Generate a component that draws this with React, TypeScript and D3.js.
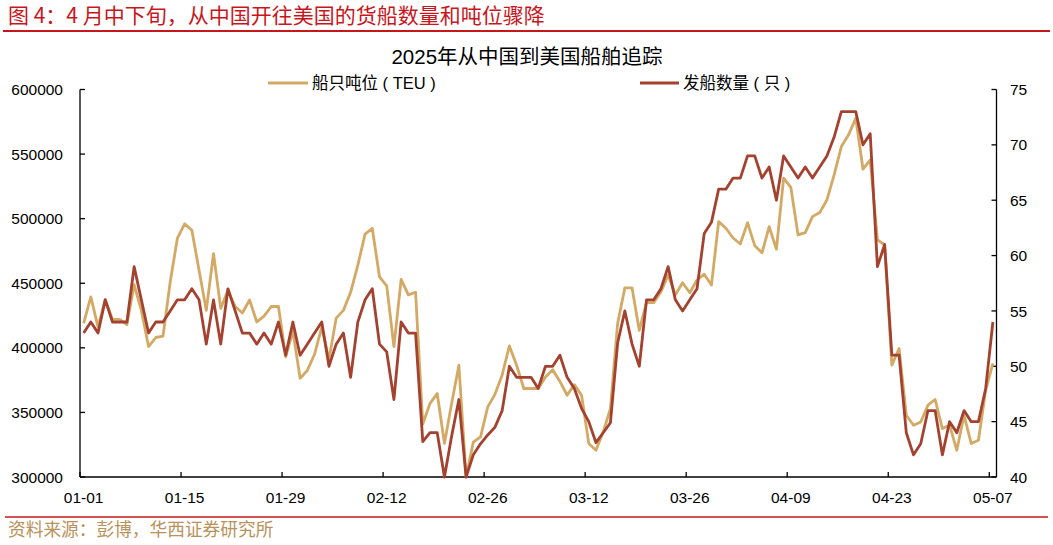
import React from "react";
import * as d3 from "d3";

// daily values, 2025-01-01 .. 2025-05-07
const teu = [
  419000, 439500, 416000, 437500, 422000, 422000, 418000, 449000, 429000, 401000,
  408000, 409000, 451000, 485000, 496000, 491000, 460000, 429000, 473000, 430500,
  444500, 432000, 427000, 437000, 420000, 424500, 432000, 432000, 393000, 413000,
  376500, 382500, 395000, 416000, 391000, 423000, 429000, 443000, 464000, 488000,
  492500, 455000, 448000, 401000, 453000, 441000, 443000, 341000, 357000, 364600,
  326000, 357000, 386600, 300000, 327000, 331000, 354300, 364000, 379000, 401500,
  386500, 368500, 368500, 368500, 377500, 383000, 374000, 363300, 371500, 363300,
  326000, 320700, 335000, 353000, 419000, 446400, 446400, 413500, 435000, 435000,
  443400, 456300, 441000, 450400, 442600, 452500, 457000, 448600, 497700, 492600,
  485000, 480400, 496900, 479100, 473600, 493800, 476300, 531300, 524300, 487400,
  489200, 501600, 504700, 514500, 533900, 555800, 564900, 577800, 538300, 545500,
  483500, 479800, 386600, 399500, 347800, 340100, 342600, 355600, 360000, 337500,
  340100, 320700, 347800, 325900, 328500, 367200, 387900,
];

const ships = [
  53, 54, 53, 56, 54, 54, 54, 59, 56, 53,
  54, 54, 55, 56, 56, 57, 56, 52, 56, 52,
  57, 55, 53, 53, 52, 53, 52, 54, 51, 54,
  51, 52, 53, 54, 50, 52, 53, 49, 54, 56,
  57, 52, 51.3, 47, 54, 53, 53, 43.2, 44, 44,
  40, 43.7, 47, 40, 42, 43, 43.8, 44.5, 46, 50,
  49, 49, 49, 48, 50, 50, 51, 49, 48, 46.2,
  45, 43.1, 44, 44.9, 52.1, 55, 52, 50, 56, 56,
  57, 59, 56, 55, 56, 57, 62, 63, 66, 66,
  67, 67, 69, 69, 67, 68, 65, 69, 68, 67,
  68, 67, 68, 69, 70.7, 73, 73, 73, 70, 71,
  59, 61, 51, 51, 44, 42, 43, 46, 46, 42,
  45, 44, 46, 45, 45, 48, 54,
];

const xTickLabels = ["01-01", "01-15", "01-29", "02-12", "02-26", "03-12", "03-26", "04-09", "04-23", "05-07"];
const leftTicks = [300000, 350000, 400000, 450000, 500000, 550000, 600000];
const rightTicks = [40, 45, 50, 55, 60, 65, 70, 75];

const TAN = "#D3A964";
const RED = "#A4412F";
const latin = "'Liberation Sans', Arial, sans-serif";
const cjk = "'Liberation Sans', 'Noto Sans CJK SC', sans-serif";

export default function App() {
  const W = 1053;
  const H = 545;
  const left = 80;
  const right = 996.5;
  const top = 89.5;
  const bottom = 477;

  const x = d3.scaleLinear().domain([0, teu.length]).range([left, right]);
  const yL = d3.scaleLinear().domain([300000, 600000]).range([bottom, top]);
  const yR = d3.scaleLinear().domain([40, 75]).range([bottom, top]);

  const lineL = d3
    .line<number>()
    .x((_, i) => x(i + 0.5))
    .y((d) => yL(d));
  const lineR = d3
    .line<number>()
    .x((_, i) => x(i + 0.5))
    .y((d) => yR(d));

  return (
    <svg
      width={W}
      height={H}
      style={{ position: "absolute", left: 0, top: 0, background: "#fff" }}
    >
      <text
        x={8}
        y={23}
        fill="#C8161D"
        fontSize={21}
        fontFamily="'Noto Sans CJK SC', sans-serif"
      >
        图 4：4 月中下旬，从中国开往美国的货船数量和吨位骤降
      </text>
      <line x1={3} x2={1050} y1={31} y2={31} stroke="#C8161D" strokeWidth={2} />

      <text
        x={527}
        y={64}
        textAnchor="middle"
        fontSize={20.5}
        fontFamily={cjk}
        fill="#000"
      >
        2025年从中国到美国船舶追踪
      </text>

      {/* legend */}
      <line x1={268} x2={308} y1={83} y2={83} stroke={TAN} strokeWidth={3} />
      <text x={312} y={89} fontSize={16.5} fontFamily={cjk}>
        船只吨位 ( TEU )
      </text>
      <line x1={640} x2={679} y1={83} y2={83} stroke={RED} strokeWidth={3} />
      <text x={683} y={89} fontSize={16.5} fontFamily={cjk}>
        发船数量 ( 只 )
      </text>

      {/* axes */}
      <g stroke="#000" strokeWidth={1.3} fill="none">
        <line x1={left} x2={left} y1={top} y2={bottom} />
        <line x1={right} x2={right} y1={top} y2={bottom} />
        <line x1={left} x2={right} y1={bottom} y2={bottom} />
        {leftTicks.map((t) => (
          <line key={t} x1={left} x2={left + 5} y1={yL(t)} y2={yL(t)} />
        ))}
        {rightTicks.map((t) => (
          <line key={t} x1={right - 5} x2={right} y1={yR(t)} y2={yR(t)} />
        ))}
        {xTickLabels.map((_, k) => (
          <line key={k} x1={x(k * 14)} x2={x(k * 14)} y1={bottom} y2={bottom - 5} />
        ))}
      </g>
      <g fontSize={15.5} fontFamily={latin} fill="#000">
        {leftTicks.map((t) => (
          <text key={t} x={63} y={yL(t)} dy="0.36em" textAnchor="end">
            {t}
          </text>
        ))}
        {rightTicks.map((t) => (
          <text key={t} x={1010} y={yR(t)} dy="0.36em">
            {t}
          </text>
        ))}
        {xTickLabels.map((s, k) => (
          <text key={s} x={x(k * 14 + 0.5)} y={503} textAnchor="middle">
            {s}
          </text>
        ))}
      </g>

      <path d={lineL(teu) || ""} fill="none" stroke={TAN} strokeWidth={2.8} strokeLinejoin="round" />
      <path d={lineR(ships) || ""} fill="none" stroke={RED} strokeWidth={2.8} strokeLinejoin="round" />

      <line x1={5} x2={1048} y1={517} y2={517} stroke="#C8161D" strokeWidth={1.5} />
      <text
        x={8}
        y={536}
        fill="#B8925A"
        fontSize={17.7}
        fontFamily="'Noto Sans CJK SC', sans-serif"
      >
        资料来源：彭博，华西证券研究所
      </text>
    </svg>
  );
}
